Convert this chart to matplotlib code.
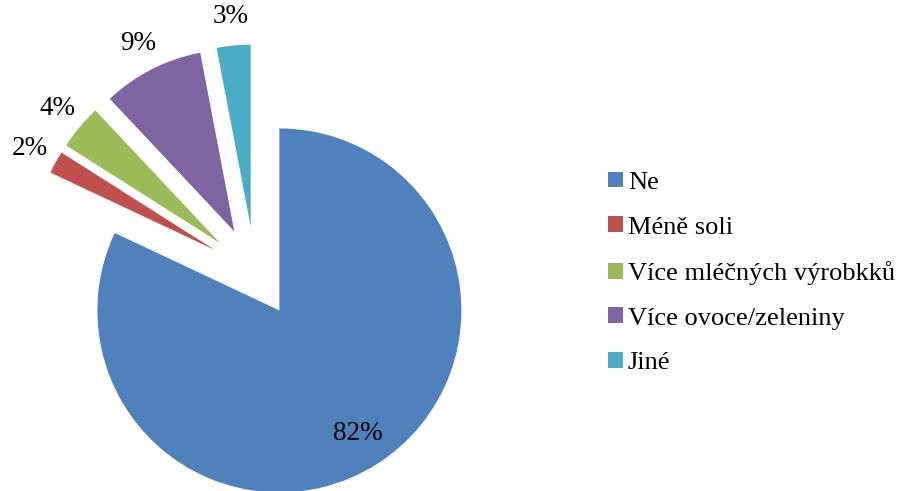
import math
import matplotlib
matplotlib.use("Agg")
import matplotlib.pyplot as plt

# data
categories = ["Ne", "Méně soli", "Více mléčných výrobkků", "Více ovoce/zeleniny", "Jiné"]
shares = [82, 2, 4, 9, 3]
colors = ["#4F81BD", "#C0504D", "#9BBB59", "#8064A2", "#4BACC6"]

plt.rcParams["font.family"] = ["Liberation Serif", "DejaVu Serif"]

W, H = 905, 491
fig = plt.figure(figsize=(W / 100, H / 100), dpi=100)

# pie centre and radius in pixels
cx, cy, rad = 255, 272, 182
half = 260
ax = fig.add_axes([(cx - half) / W, (H - cy - half) / H, 2 * half / W, 2 * half / H])

wedges, texts, autotexts = ax.pie(
    shares, colors=colors, explode=[0.25] * len(shares),
    startangle=90, counterclock=False, radius=1.0,
    autopct="%d%%", pctdistance=1.16,
    textprops={"fontsize": 19.5, "color": "black"},
    wedgeprops={"linewidth": 0},
)
# pie() resets the limits, so set them afterwards
ax.set_xlim(-half / rad, half / rad)
ax.set_ylim(-half / rad, half / rad)
ax.set_aspect("equal")
ax.axis("off")

# big slice label sits inside the wedge
w = wedges[0]
mid = math.radians((w.theta1 + w.theta2) / 2)
autotexts[0].set_position((w.center[0] + 0.8 * math.cos(mid), w.center[1] + 0.8 * math.sin(mid)))

fig.legend(
    wedges, categories, loc="center left",
    bbox_to_anchor=(608 / W, (H - 273) / H), frameon=False,
    fontsize=19, handlelength=0.55, handleheight=0.55,
    handletextpad=0.2, labelspacing=0.85, borderpad=0, borderaxespad=0,
)

fig.savefig("out.png", dpi=100)
